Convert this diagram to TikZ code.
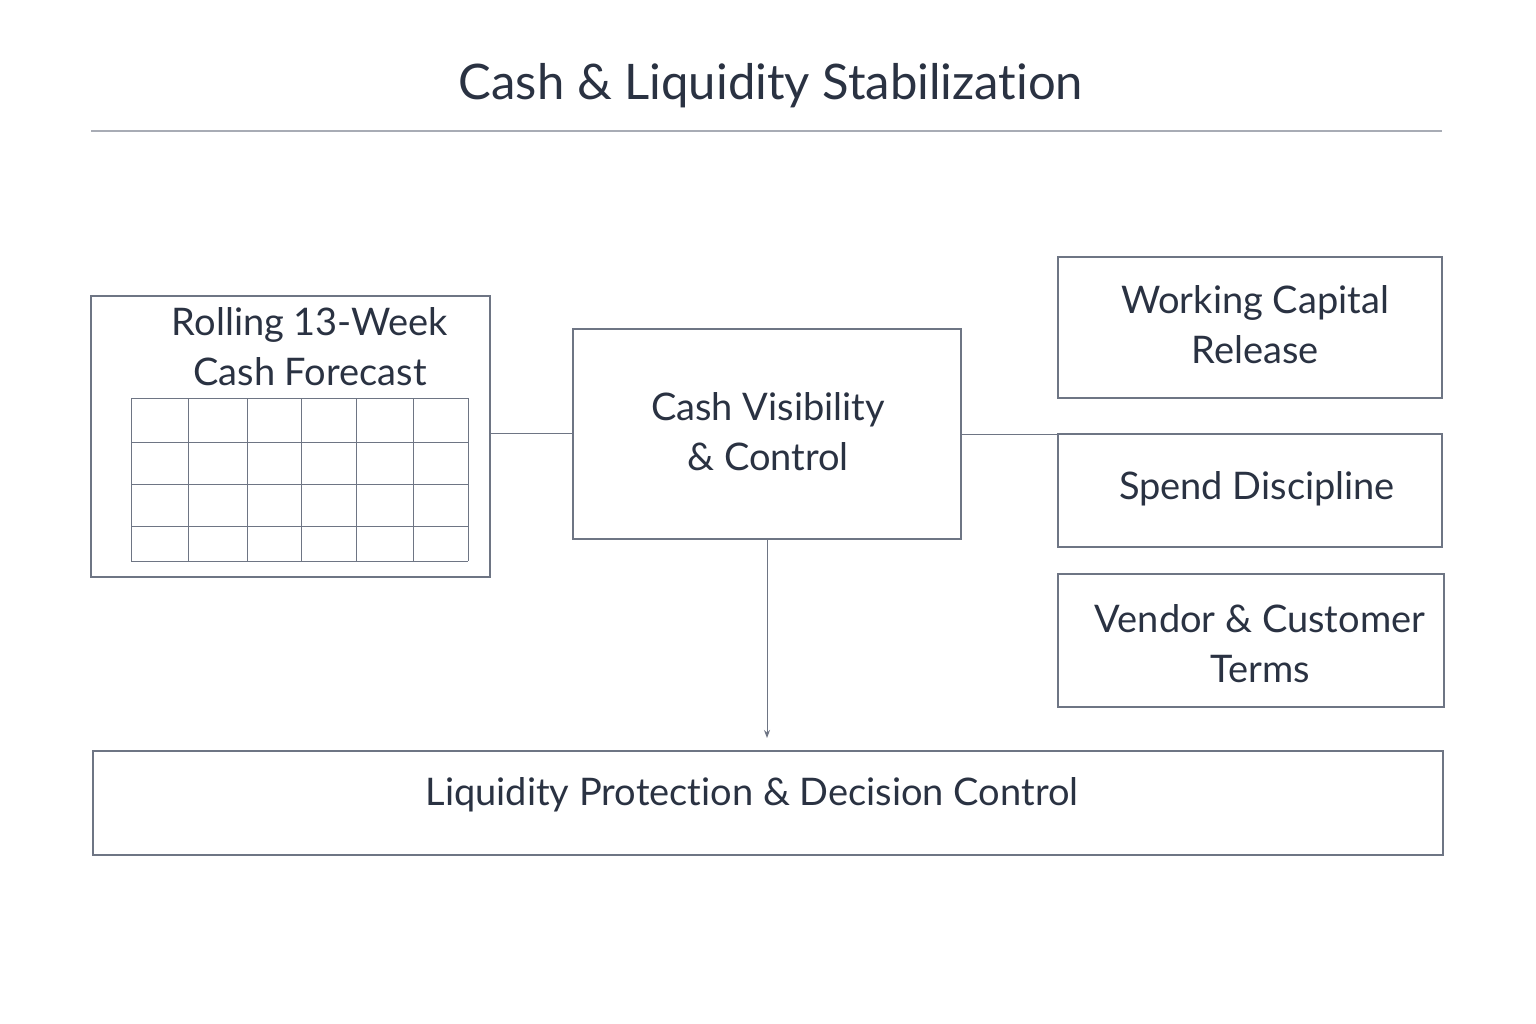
\documentclass[tikz,border=0pt]{standalone}
\usepackage{fontspec}
\setmainfont[Ligatures={NoCommon}]{Lato}
\usetikzlibrary{arrows.meta}
\definecolor{ink}{HTML}{2A3242}
\definecolor{ln}{HTML}{6E7584}
\begin{document}
\begin{tikzpicture}[x=1pt,y=-1pt,
  box/.style={draw=ln,line width=1.1pt},
  txt/.style={text=ink,font=\fontsize{38}{50}\selectfont,align=center},
  conn/.style={draw=ln,line width=1.0pt}]
\fill[white!97!blue!1] (0,0) rectangle (1536,1024);
\useasboundingbox (0,0) rectangle (1536,1024);
\node[text=ink,font=\fontsize{49}{58}\selectfont] (title) at (771,86) {Cash \& Liquidity Stabilization};
\draw[draw=ln!60,line width=1.2pt] (91,131) -- (1442,131);
\draw[box] (91,296) rectangle (490,577);
\coordinate (fcR) at (490,433);
\node[txt] (fct) at (310,347) {Rolling 13-Week\\Cash Forecast};
\foreach \x in {131,188,247,301,356,413,468} \draw[draw=ln,line width=0.9pt] (\x,398) -- (\x,561);
\foreach \y in {398,442,484,526,561} \draw[draw=ln,line width=0.9pt] (131,\y) -- (468,\y);
\node[box,minimum width=388pt,minimum height=210pt] (cv) at (767,434) {};
\node[txt] at (768,432) {Cash Visibility\\\& Control};
\node[box,minimum width=384pt,minimum height=141pt] (wc) at (1250,327.5) {};
\node[txt] at (1255,325) {Working Capital\\Release};
\node[box,minimum width=384pt,minimum height=113pt] (sd) at (1250,490.5) {};
\node[txt] at (1257,489) {Spend Discipline};
\node[box,minimum width=386pt,minimum height=133pt] (vc) at (1251,640.5) {};
\node[txt] at (1260,644) {Vendor \& Customer\\Terms};
\node[box,minimum width=1350pt,minimum height=104pt] (lp) at (768,803) {};
\node[txt] at (752,795) {Liquidity Protection \& Decision Control};
\coordinate (arrEnd) at (767,738);
\draw[conn] (fcR) -- (cv.west |- fcR);
\draw[conn] (cv.east) -- (sd.west |- cv.east);
\draw[conn,-{Stealth[length=8pt,width=6pt]}] (cv.south) -- (arrEnd);
\end{tikzpicture}
\end{document}
